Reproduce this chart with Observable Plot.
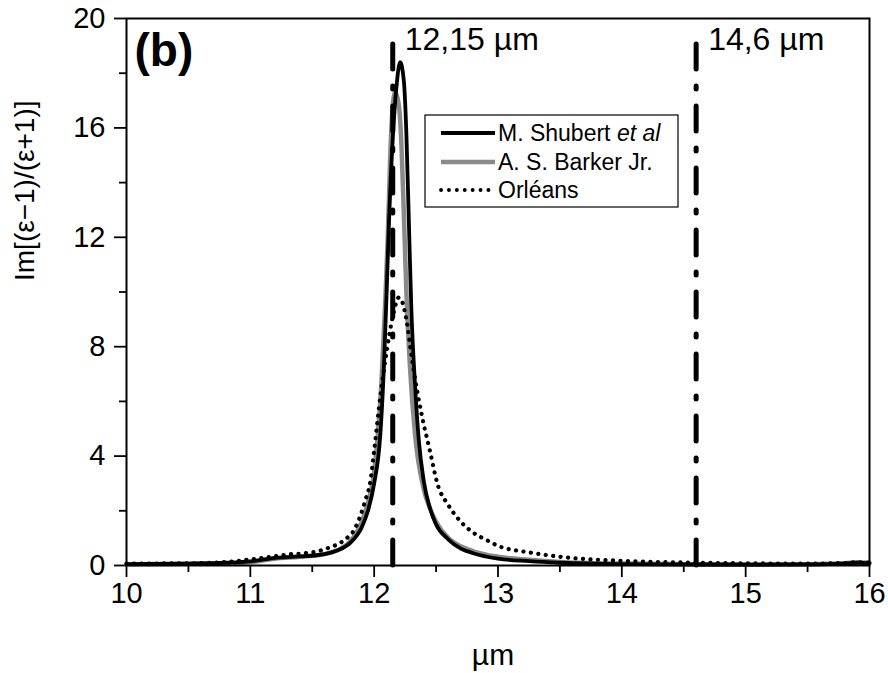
<!DOCTYPE html>
<html>
<head>
<meta charset="utf-8">
<script src="https://cdn.jsdelivr.net/npm/d3@7"></script>
<script src="https://cdn.jsdelivr.net/npm/@observablehq/plot@0.6"></script>
<style>
  html, body { margin: 0; padding: 0; background: #fff; }
  #chart { width: 888px; height: 673px; }
</style>
</head>
<body>
<div id="chart"></div>
<script>
// ---- data ----
const shubertWl = [10.0, 10.5, 10.8, 11.0, 11.2, 11.4, 11.6, 11.7, 11.8, 11.9, 11.95, 12.0, 12.05, 12.08, 12.1, 12.12, 12.15, 12.18, 12.21, 12.24, 12.26, 12.28, 12.3, 12.33, 12.36, 12.4, 12.45, 12.5, 12.6, 12.7, 12.8, 13.0, 13.25, 13.5, 14.0, 14.5, 15.0, 15.5, 15.8, 15.9, 16.0];
const shubertIm = [0.05, 0.07, 0.1, 0.15, 0.28, 0.33, 0.42, 0.55, 0.8, 1.4, 2.0, 3.0, 4.8, 7.4, 9.9, 12.6, 15.6, 17.5, 18.4, 17.7, 15.8, 12.6, 9.4, 6.6, 4.6, 3.1, 2.1, 1.5, 0.95, 0.62, 0.45, 0.25, 0.16, 0.1, 0.05, 0.04, 0.03, 0.04, 0.07, 0.1, 0.08];

const barkerWl = [10.0, 10.5, 10.8, 11.0, 11.2, 11.4, 11.6, 11.7, 11.8, 11.9, 11.95, 12.0, 12.03, 12.06, 12.09, 12.11, 12.13, 12.15, 12.17, 12.2, 12.22, 12.24, 12.26, 12.29, 12.33, 12.4, 12.45, 12.5, 12.6, 12.7, 12.8, 13.0, 13.25, 13.5, 14.0, 14.5, 15.0, 15.5, 15.8, 15.9, 16.0];
const barkerIm = [0.05, 0.06, 0.08, 0.12, 0.25, 0.32, 0.42, 0.55, 0.85, 1.6, 2.3, 3.4, 4.8, 6.8, 9.7, 12.0, 15.0, 16.8, 17.3, 16.8, 15.4, 12.8, 10.0, 7.2, 4.8, 2.8, 2.1, 1.6, 1.0, 0.7, 0.52, 0.32, 0.21, 0.13, 0.07, 0.05, 0.04, 0.05, 0.08, 0.12, 0.1];

const orleansWl = [10.0, 10.5, 10.86, 11.0, 11.14, 11.3, 11.5, 11.64, 11.75, 11.85, 11.93, 11.97, 12.0, 12.05, 12.1, 12.15, 12.2, 12.23, 12.26, 12.31, 12.38, 12.45, 12.51, 12.6, 12.7, 12.8, 12.9, 13.0, 13.25, 13.5, 14.0, 14.5, 15.0, 15.5, 15.8, 15.9, 16.0];
const orleansIm = [0.07, 0.08, 0.15, 0.22, 0.3, 0.4, 0.48, 0.66, 0.9, 1.4, 2.4, 3.1, 4.2, 6.2, 7.8, 9.1, 9.8, 9.6, 9.0, 7.4, 5.6, 4.2, 3.0, 2.2, 1.6, 1.2, 0.95, 0.72, 0.48, 0.32, 0.17, 0.11, 0.08, 0.07, 0.09, 0.12, 0.1];

const markerWl = [12.15, 14.6];
const markerLabels = ["12,15 µm", "14,6 µm"];

const seriesNames = ["M. Shubert", "A. S. Barker Jr.", "Orléans"];

const xTicks = [10, 11, 12, 13, 14, 15, 16];
const xMinorTicks = [10.5, 11.5, 12.5, 13.5, 14.5, 15.5];
const yTicks = [0, 4, 8, 12, 16, 20];
const yMinorTicks = [2, 6, 10, 14, 18];

const xLabel = "µm";
const yLabel = "Im[(ε−1)/(ε+1)]";
const panelLabel = "(b)";

// ---- build tables ----
const toRows = (xs, ys) => xs.map((x, i) => ({x, y: ys[i]}));
const shubert = toRows(shubertWl, shubertIm);
const barker = toRows(barkerWl, barkerIm);
const orleans = toRows(orleansWl, orleansIm);
const markers = markerWl.map((x, i) => ({x, label: markerLabels[i]}));

const FONT = "'Liberation Sans', Arial, Helvetica, sans-serif";

function legendMark(index, scales, values, dims) {
  const g = d3.create("svg:g").attr("font-family", FONT).attr("text-anchor", "start");
  const x0 = 425, y0 = 115, w = 253, h = 92;
  g.append("rect").attr("x", x0).attr("y", y0).attr("width", w).attr("height", h)
    .attr("fill", "white").attr("stroke", "black").attr("stroke-width", 1.2);
  const rows = [
    {y: 133, stroke: "black", width: 3.8, dash: null},
    {y: 162, stroke: "#8a8a8a", width: 4.5, dash: null},
    {y: 190, stroke: "black", width: 3.8, dash: "0.1,7.8"}
  ];
  rows.forEach((r, i) => {
    const ln = g.append("line").attr("x1", 441).attr("x2", 495).attr("y1", r.y).attr("y2", r.y)
      .attr("stroke", r.stroke).attr("stroke-width", r.width).attr("stroke-linecap", r.dash ? "round" : "butt");
    if (r.dash) ln.attr("stroke-dasharray", r.dash);
    const t = g.append("text").attr("x", 498).attr("y", r.y + 8).attr("font-size", 23).attr("fill", "black");
    t.append("tspan").text(seriesNames[i]);
    if (i === 0) t.append("tspan").attr("font-style", "italic").text(" et al");
  });
  return g.node();
}

const chart = Plot.plot({
  width: 888,
  height: 673,
  marginLeft: 126,
  marginRight: 19,
  marginTop: 18,
  marginBottom: 108,
  style: {fontFamily: FONT, background: "white", color: "black", overflow: "visible"},
  x: {domain: [10, 16]},
  y: {domain: [0, 20]},
  marks: [
    Plot.axisX({ticks: xTicks, tickSize: 12, tickPadding: 5, fontSize: 29, strokeWidth: 1.8,
      tickFormat: d => String(d), label: null}),
    Plot.axisX({ticks: xMinorTicks, tickSize: 7, text: null, label: null, strokeWidth: 1.8}),
    Plot.axisY({ticks: yTicks, tickSize: 12, tickPadding: 9, fontSize: 29, strokeWidth: 1.8,
      tickFormat: d => String(d), label: null}),
    Plot.axisY({ticks: yMinorTicks, tickSize: 7, text: null, label: null, strokeWidth: 1.8}),
    Plot.text([xLabel], {frameAnchor: "bottom", dy: 90, dx: -5, fontSize: 30, lineAnchor: "middle", fill: "black"}),
    Plot.text([yLabel], {frameAnchor: "left", rotate: -90, dx: -101, dy: -11, fontSize: 28, lineAnchor: "middle", fill: "black"}),
    Plot.line(barker, {x: "x", y: "y", stroke: "#8a8a8a", strokeWidth: 4.5, curve: "monotone-x"}),
    Plot.line(shubert, {x: "x", y: "y", stroke: "black", strokeWidth: 3.8, curve: "monotone-x"}),
    Plot.line(orleans, {x: "x", y: "y", stroke: "black", strokeWidth: 4.2, strokeDasharray: "0.1,7.4", strokeLinecap: "round", curve: "monotone-x"}),
    Plot.ruleX(markers, {x: "x", y1: 0, y2: 19.6, stroke: "black", strokeWidth: 5, strokeLinecap: "round",
      strokeDasharray: "25,17,3,17"}),
    Plot.text(markers, {x: "x", y: 18.85, text: "label", textAnchor: "start", dx: 12, fontSize: 32, lineAnchor: "bottom", fill: "black"}),
    Plot.text([panelLabel], {frameAnchor: "top-left", dx: 8, dy: 15, fontSize: 46, fontWeight: "bold", lineAnchor: "top", fill: "black"}),
    legendMark,
    Plot.frame({stroke: "black", strokeWidth: 2})
  ]
});
document.getElementById("chart").appendChild(chart);
</script>
</body>
</html>
